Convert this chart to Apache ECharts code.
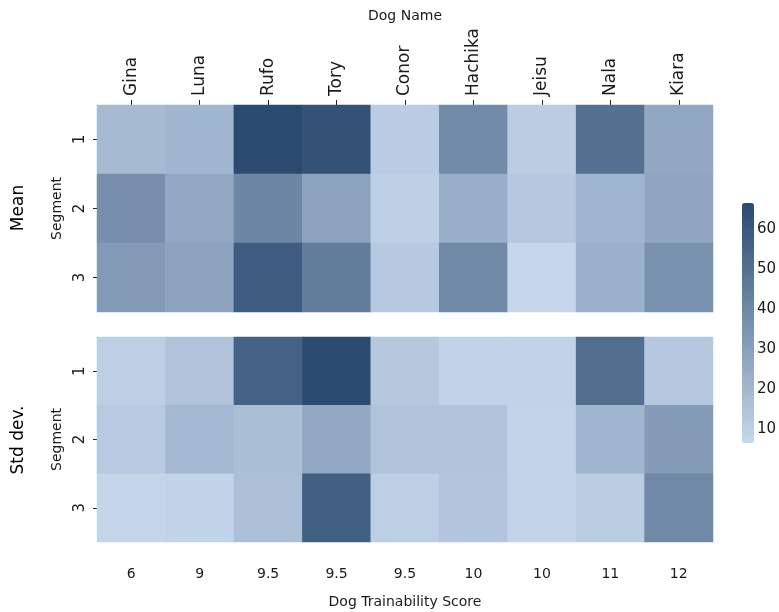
<!DOCTYPE html>
<html>
<head>
<meta charset="utf-8">
<script src="https://cdn.jsdelivr.net/npm/echarts@6/dist/echarts.min.js"></script>
<style>
  html, body { margin: 0; padding: 0; background: #fff; }
  #main { width: 779px; height: 612px; }
</style>
</head>
<body>
<div id="main"></div>
<script>
// dogs and their trainability scores (bottom axis labels)
const dogs = ['Gina', 'Luna', 'Rufo', 'Tory', 'Conor', 'Hachika', 'Jeisu', 'Nala', 'Kiara']
const scores = ['6', '9', '9.5', '9.5', '9.5', '10', '10', '11', '12']
const segments = ['1', '2', '3']

// mean per segment (rows) and dog (columns)
const meanSeg1 = [19, 21, 66.5, 63, 11, 39, 10.7, 50, 26.5]
const meanSeg2 = [37, 26, 41, 29, 9.6, 24, 12.7, 21, 27.8]
const meanSeg3 = [32.4, 29, 58.8, 44.8, 12.3, 39.8, 6.5, 23, 36]

// std dev per segment and dog
const stdSeg1 = [10, 15, 56.5, 66, 13, 8.4, 8.4, 51, 12.7]
const stdSeg2 = [12, 19.7, 17.3, 26, 15, 14.6, 7.7, 21, 31.7]
const stdSeg3 = [7.3, 8.4, 16.6, 57.2, 10, 14.2, 7.7, 10.7, 39.8]

const colorMin = 6.5
const colorMax = 66.5
const colorTicks = [10, 20, 30, 40, 50, 60]

function toCells(rows) {
  const out = []
  rows.forEach((row, y) => {
    row.forEach((v, x) => {
      out.push([x, y, v])
    })
  })
  return out
}

const txt = '#1a1a1a'
const font = 'DejaVu Sans'

const chart = echarts.init(document.getElementById('main'))
const option = {
  animation: false,
  backgroundColor: '#fff',
  textStyle: { fontFamily: font, color: txt },
  grid: [
    { left: 97, right: 66, top: 105, height: 207 },
    { left: 97, right: 66, top: 337, height: 205 },
    { left: 742, width: 12, top: 203, height: 240 } // colorbar axis
  ],
  xAxis: [
    {
      gridIndex: 0,
      type: 'category',
      position: 'top',
      data: dogs,
      name: 'Dog Name',
      nameLocation: 'middle',
      nameGap: 82,
      nameTextStyle: { fontSize: 14, color: txt, fontFamily: font },
      axisLine: { show: false },
      axisTick: { show: true, alignWithLabel: true, length: 5, lineStyle: { color: '#222' } },
      axisLabel: { rotate: -90, fontSize: 17, color: txt, margin: 9, fontFamily: font },
      splitLine: { show: false }
    },
    {
      gridIndex: 1,
      type: 'category',
      position: 'bottom',
      data: dogs,
      name: 'Dog Trainability Score',
      nameLocation: 'middle',
      nameGap: 53,
      nameTextStyle: { fontSize: 14, color: txt, fontFamily: font },
      axisLine: { show: false },
      axisTick: { show: false },
      axisLabel: {
        fontSize: 14, color: txt, margin: 25, fontFamily: font,
        formatter: (v, i) => scores[i]
      },
      splitLine: { show: false }
    },
    { gridIndex: 2, type: 'value', show: false }
  ],
  yAxis: [
    {
      gridIndex: 0,
      type: 'category',
      data: segments,
      inverse: true,
      name: 'Segment',
      nameLocation: 'middle',
      nameGap: 33,
      nameTextStyle: { fontSize: 14, color: txt, fontFamily: font },
      axisLine: { show: false },
      axisTick: { show: true, alignWithLabel: true, length: 4, lineStyle: { color: '#222' } },
      axisLabel: { rotate: 90, fontSize: 15, color: txt, margin: 9, fontFamily: font },
      splitLine: { show: false }
    },
    {
      gridIndex: 1,
      type: 'category',
      data: segments,
      inverse: true,
      name: 'Segment',
      nameLocation: 'middle',
      nameGap: 33,
      nameTextStyle: { fontSize: 14, color: txt, fontFamily: font },
      axisLine: { show: false },
      axisTick: { show: true, alignWithLabel: true, length: 4, lineStyle: { color: '#222' } },
      axisLabel: { rotate: 90, fontSize: 15, color: txt, margin: 9, fontFamily: font },
      splitLine: { show: false }
    },
    {
      gridIndex: 2,
      type: 'value',
      position: 'right',
      min: colorMin,
      max: colorMax,
      axisLine: { show: false },
      splitLine: { show: false },
      axisTick: { show: true, length: 4, customValues: colorTicks, lineStyle: { color: '#222' } },
      axisLabel: { fontSize: 15, color: txt, margin: 8, customValues: colorTicks, fontFamily: font }
    }
  ],
  visualMap: {
    type: 'continuous',
    seriesIndex: [0, 1],
    min: colorMin,
    max: colorMax,
    calculable: false,
    hoverLink: false,
    left: 742,
    top: 203,
    padding: 0,
    itemWidth: 12,
    itemHeight: 240,
    text: null,
    inRange: { color: ['#c6d7ec', '#2a4a6f'] }
  },
  graphic: [
    {
      type: 'text', x: 19, y: 208, rotation: Math.PI / 2,
      style: { text: 'Mean', fontSize: 17, fontFamily: font, fill: '#000', textAlign: 'center', textVerticalAlign: 'middle' }
    },
    {
      type: 'text', x: 19, y: 440, rotation: Math.PI / 2,
      style: { text: 'Std dev.', fontSize: 17, fontFamily: font, fill: '#000', textAlign: 'center', textVerticalAlign: 'middle' }
    }
  ],
  series: [
    {
      name: 'Mean',
      type: 'heatmap',
      xAxisIndex: 0,
      yAxisIndex: 0,
      data: toCells([meanSeg1, meanSeg2, meanSeg3])
    },
    {
      name: 'Std dev.',
      type: 'heatmap',
      xAxisIndex: 1,
      yAxisIndex: 1,
      data: toCells([stdSeg1, stdSeg2, stdSeg3])
    }
  ]
}
chart.setOption(option)
</script>
</body>
</html>
